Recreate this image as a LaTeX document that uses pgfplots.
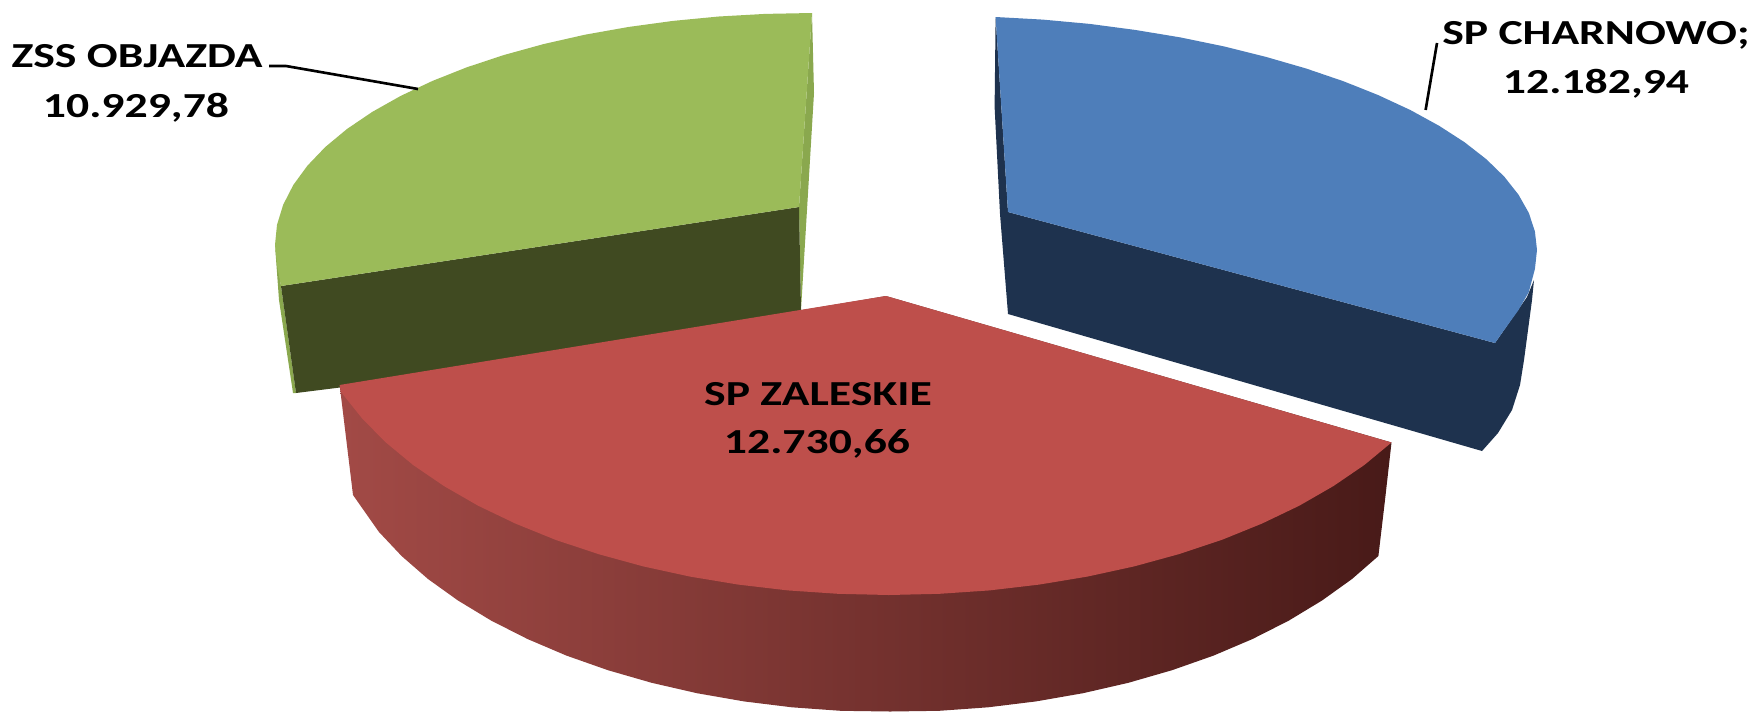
\documentclass[border=0pt]{standalone}
\usepackage{graphicx}
\usepackage{pgfplots}
\pgfplotsset{compat=1.18}
\usepackage{fontspec}
\setmainfont{Carlito}
\definecolor{gtop}{HTML}{9BBB59}
\definecolor{gside}{HTML}{8AA84E}
\definecolor{gdark}{HTML}{404A21}
\definecolor{btop}{HTML}{4E7EBA}
\definecolor{bdark}{HTML}{1E324E}
\definecolor{rtop}{HTML}{BE4F4B}
\definecolor{rleft}{HTML}{A24A46}
\definecolor{rmid}{HTML}{6C2827}
\definecolor{rright}{HTML}{481A18}
\newcommand{\lbl}[1]{\scalebox{1.3}[1]{\textbf{#1}}}
\begin{document}
\begin{tikzpicture}
\begin{axis}[
  scale only axis, width=17.58cm, height=7.12cm,
  xmin=0, xmax=1758, ymin=0, ymax=712, y dir=reverse,
  hide axis, clip=false,
  every node/.append style={font=\fontsize{13}{15}\selectfont, text=black, inner sep=0pt},
]
% green slice
\addplot[draw=none, fill=gside] coordinates {(812,13)(814,93)(801,310)(799,207)};
\addplot[draw=none, fill=gside] coordinates {(275,245)(281,286)(296,393)(293,393)(279,300)};
\addplot[draw=none, fill=gdark] coordinates {(281,286)(799,207)(801,310)(800,330)(296,393)};
\addplot[draw=none, fill=gtop] coordinates {(812,13)(765.2,13.9)(718.8,16.5)(673,20.9)(628.3,27)(585,34.7)(543.5,44.1)(504,55)(466.8,67.3)(432.3,81)(400.7,95.9)(372.1,112)(347,129)(325.3,147)(307.4,165.7)(293.3,185)(283.2,204.7)(277,224.8)(275,245)(277,265.2)(281,286)(799,207)};
% blue slice
\addplot[draw=none, fill=bdark] coordinates {(995.6,17)(994.6,107)(1000,214)(1008,314)(1008,212)};
\addplot[draw=none, fill=bdark] coordinates {(1008,212)(1495,343)(1527,297)(1534,280)(1532,300)(1528,330)(1524,360)(1520,385)(1512,410)(1498,433)(1482,451)(1008,314)};
\addplot[draw=none, fill=btop] coordinates {(995.6,17)(1042.8,19.6)(1089.6,23.9)(1135.7,30)(1180.8,37.5)(1224.4,46.5)(1266.3,57)(1306.1,68.5)(1343.6,81.3)(1378.4,95.2)(1410.3,110)(1439.1,125.8)(1464.5,142.2)(1486.3,159.2)(1504.3,176.7)(1518.5,194.7)(1528.8,212.9)(1534.9,231.4)(1537,250)(1534.9,269)(1528.8,292)(1518.5,310)(1504.3,329.7)(1495,343)(1008,212)};
% red slice
\addplot[draw=none, left color=rleft, middle color=rmid, right color=rright] coordinates {(340,388)(353,495)(378.9,531.9)(401.6,556)(428,579)(458,600.5)(491.2,620.6)(527.5,639)(566.5,655.6)(608,670.2)(651.7,682.8)(697,693.2)(744,701.4)(792,707.3)(840.8,710.8)(890,711.5)(939.2,710.8)(988,707.3)(1036,701.4)(1083,693.2)(1128.3,682.8)(1172,670.2)(1213.5,655.6)(1252.5,639)(1288.8,620.6)(1322,600.5)(1352,579)(1378.4,556)(1385,500)(1391.5,442.5)(886,296)};
\addplot[draw=none, fill=rtop] coordinates {(339.5,385)(341,392)(362.5,418.9)(385.9,442.5)(413.1,465)(443.9,486)(478.1,505.7)(515.5,523.6)(555.7,539.9)(598.4,554.1)(643.3,566.4)(690.1,576.6)(738.4,584.6)(787.9,590.4)(838.1,593.8)(888.7,595)(939.3,593.8)(989.5,590.4)(1039,584.6)(1087.3,576.6)(1134.1,566.4)(1179,554.1)(1221.7,539.9)(1261.9,523.6)(1299.3,505.7)(1333.5,486)(1364.3,465)(1391.5,442.5)(886,296)};
% leader lines
\addplot[black, line width=0.75pt] coordinates {(269,66)(286,66)(418,89)};
\addplot[black, line width=0.75pt] coordinates {(1437,43)(1425.6,110)};
% labels
\node at (axis cs:137,56) {\lbl{ZSS OBJAZDA}};
\node at (axis cs:136,108) {\lbl{10.929,78}};
\node at (axis cs:1596,35) {\lbl{SP CHARNOWO;}};
\node at (axis cs:1596,84) {\lbl{12.182,94}};
\node at (axis cs:818,394) {\lbl{SP ZALESKIE}};
\node at (axis cs:817,444) {\lbl{12.730,66}};
\end{axis}
\pgfresetboundingbox
\useasboundingbox (0,0) rectangle (17.58cm,7.12cm);
\end{tikzpicture}
\end{document}
